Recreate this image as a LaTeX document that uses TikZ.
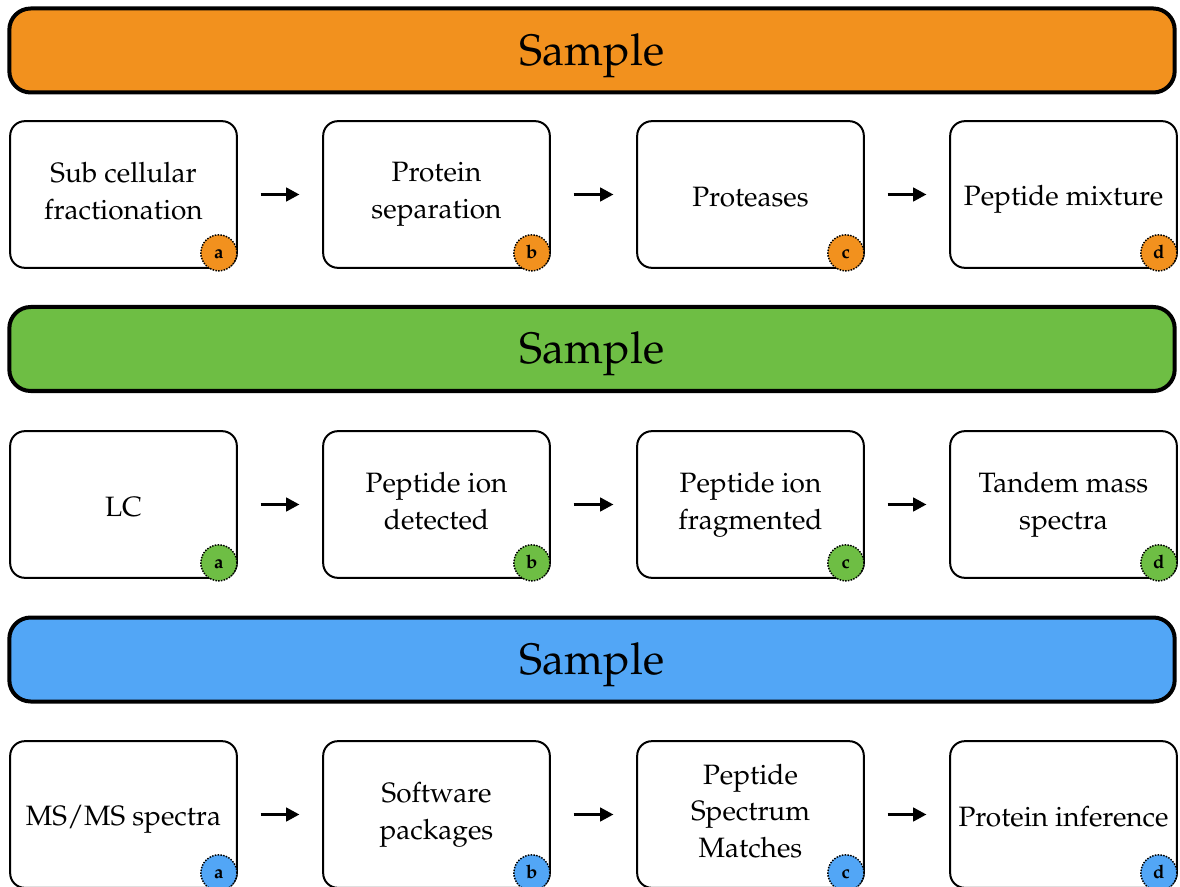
\documentclass[tikz,border=0pt]{standalone}
\usepackage[T1]{fontenc}
\usepackage{mathpazo}
\usetikzlibrary{arrows.meta}

\definecolor{sampleorange}{RGB}{242,145,30}
\definecolor{samplegreen}{RGB}{110,190,68}
\definecolor{sampleblue}{RGB}{82,166,246}

\tikzset{every picture/.style={line width=0.75pt},
  banner/.style={draw, line width=3pt, rounded corners=16pt, fill=#1,
    minimum width=874pt, minimum height=63pt, text height=24pt, text depth=2pt,
    font=\fontsize{33}{40}\selectfont},
  stepbox/.style={draw, line width=1.5pt, rounded corners=11pt, fill=white,
    minimum width=170pt, minimum height=110pt, align=center,
    execute at begin node={\rule{0pt}{23pt}},
    execute at end node={\rule[-5.5pt]{0pt}{5.5pt}},
    font=\fontsize{21}{27.5}\selectfont},
  badge/.style={circle, draw, densely dotted, line width=1.1pt, fill=#1,
    minimum size=27pt, inner sep=0pt, text height=9pt, text depth=0pt,
    font=\fontsize{14}{14}\bfseries\selectfont},
  flow/.style={line width=2.4pt, -{Triangle[length=10pt,width=10pt]},
    shorten <=17pt, shorten >=17pt}
}

\begin{document}
\begin{tikzpicture}[x=0.75pt,y=0.75pt,yscale=-1]
\useasboundingbox (0,0) rectangle (1180,887);

%Sample banners
\node[banner=sampleorange] (sampleA) at (592,50.5) {Sample};
\node[banner=samplegreen] (sampleB) at (592,349) {Sample};
\node[banner=sampleblue] (sampleC) at (592,659.5) {Sample};

%Row one: preparation
\node[stepbox] (prepA) at (123.5,194.5) {Sub cellular\\fractionation};
\node[stepbox] (prepB) at (436.5,194.5) {Protein\\separation};
\node[stepbox] (prepC) at (750.5,194.5) {Proteases};
\node[stepbox] (prepD) at (1063.5,194.5) {Peptide mixture};
\node[badge=sampleorange] at ([shift={(-19,-16)}]prepA.south east) {a};
\node[badge=sampleorange] at ([shift={(-19,-16)}]prepB.south east) {b};
\node[badge=sampleorange] at ([shift={(-19,-16)}]prepC.south east) {c};
\node[badge=sampleorange] at ([shift={(-19,-16)}]prepD.south east) {d};
\draw[flow] (prepA) -- (prepB);
\draw[flow] (prepB) -- (prepC);
\draw[flow] (prepC) -- (prepD);

%Row two: mass spectrometry
\node[stepbox] (msA) at (123.5,504.5) {LC};
\node[stepbox] (msB) at (436.5,504.5) {Peptide ion\\detected};
\node[stepbox] (msC) at (750.5,504.5) {Peptide ion\\fragmented};
\node[stepbox] (msD) at (1063.5,504.5) {Tandem mass\\spectra};
\node[badge=samplegreen] at ([shift={(-19,-16)}]msA.south east) {a};
\node[badge=samplegreen] at ([shift={(-19,-16)}]msB.south east) {b};
\node[badge=samplegreen] at ([shift={(-19,-16)}]msC.south east) {c};
\node[badge=samplegreen] at ([shift={(-19,-16)}]msD.south east) {d};
\draw[flow] (msA) -- (msB);
\draw[flow] (msB) -- (msC);
\draw[flow] (msC) -- (msD);

%Row three: data analysis
\node[stepbox] (anaA) at (123.5,814.5) {MS/MS spectra};
\node[stepbox] (anaB) at (436.5,814.5) {Software\\packages};
\node[stepbox] (anaC) at (750.5,814.5) {Peptide\\Spectrum\\Matches};
\node[stepbox] (anaD) at (1063.5,814.5) {Protein inference};
\node[badge=sampleblue] at ([shift={(-19,-16)}]anaA.south east) {a};
\node[badge=sampleblue] at ([shift={(-19,-16)}]anaB.south east) {b};
\node[badge=sampleblue] at ([shift={(-19,-16)}]anaC.south east) {c};
\node[badge=sampleblue] at ([shift={(-19,-16)}]anaD.south east) {d};
\draw[flow] (anaA) -- (anaB);
\draw[flow] (anaB) -- (anaC);
\draw[flow] (anaC) -- (anaD);

\end{tikzpicture}
\end{document}
